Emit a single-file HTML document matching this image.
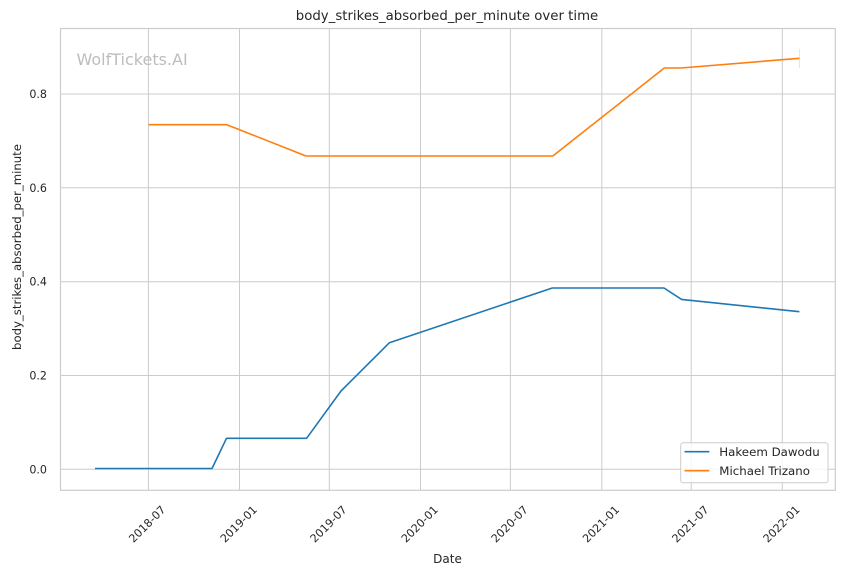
<!DOCTYPE html>
<html>
<head>
<meta charset="utf-8">
<style>
html,body{margin:0;padding:0;background:#fff;}
svg{display:block;}
text{font-family:"DejaVu Sans","Liberation Sans",sans-serif;fill:#262626;}
</style>
</head>
<body>
<svg width="844" height="575" viewBox="0 0 844 575" xmlns="http://www.w3.org/2000/svg">
<rect x="0" y="0" width="844" height="575" fill="#fff"/>
<!-- grid -->
<g stroke="#cccccc" stroke-width="1" fill="none">
<line x1="148.4" y1="28" x2="148.4" y2="490"/>
<line x1="239.5" y1="28" x2="239.5" y2="490"/>
<line x1="329.3" y1="28" x2="329.3" y2="490"/>
<line x1="420.5" y1="28" x2="420.5" y2="490"/>
<line x1="510.4" y1="28" x2="510.4" y2="490"/>
<line x1="601.8" y1="28" x2="601.8" y2="490"/>
<line x1="691.2" y1="28" x2="691.2" y2="490"/>
<line x1="782.3" y1="28" x2="782.3" y2="490"/>
<line x1="60" y1="469.3" x2="835" y2="469.3"/>
<line x1="60" y1="375.5" x2="835" y2="375.5"/>
<line x1="60" y1="281.7" x2="835" y2="281.7"/>
<line x1="60" y1="187.8" x2="835" y2="187.8"/>
<line x1="60" y1="94" x2="835" y2="94"/>
<rect x="60.5" y="28.5" width="774.8" height="461.8" stroke-width="1.2"/>
</g>
<!-- watermark -->
<text x="76.5" y="65" font-size="16" style="fill:#bdbdbd">WolfTickets.AI</text>
<!-- series -->
<line x1="799.5" y1="49" x2="799.5" y2="68" stroke="#ff7f0e" stroke-opacity="0.25" stroke-width="1"/>
<polyline fill="none" stroke="#1f77b4" stroke-width="1.6" stroke-linejoin="round" points="95,468.5 212,468.5 226.5,438.3 306.6,438.3 341,391 389.4,342.7 552.3,288 664,288 681.6,299.4 799.4,311.7"/>
<polyline fill="none" stroke="#ff7f0e" stroke-width="1.6" stroke-linejoin="round" points="148.5,124.7 226.8,124.7 306,156 552.8,156 664.3,68 681,68 799.4,58.3"/>
<!-- y tick labels -->
<g font-size="11.1" text-anchor="end">
<text x="47" y="473.3">0.0</text>
<text x="47" y="379.5">0.2</text>
<text x="47" y="285.7">0.4</text>
<text x="47" y="191.8">0.6</text>
<text x="47" y="98">0.8</text>
</g>
<!-- x tick labels -->
<g font-size="11.1" text-anchor="middle">
<text transform="translate(147,524) rotate(-45)" y="4">2018-07</text>
<text transform="translate(238.5,524) rotate(-45)" y="4">2019-01</text>
<text transform="translate(328.3,524) rotate(-45)" y="4">2019-07</text>
<text transform="translate(419.5,524) rotate(-45)" y="4">2020-01</text>
<text transform="translate(509.4,524) rotate(-45)" y="4">2020-07</text>
<text transform="translate(600.8,524) rotate(-45)" y="4">2021-01</text>
<text transform="translate(690.2,524) rotate(-45)" y="4">2021-07</text>
<text transform="translate(781.3,524) rotate(-45)" y="4">2022-01</text>
</g>
<!-- axis labels -->
<text x="447.5" y="563" font-size="12" text-anchor="middle">Date</text>
<text transform="translate(21,247) rotate(-90)" font-size="11.7" text-anchor="middle">body_strikes_absorbed_per_minute</text>
<!-- title -->
<text x="447" y="19.8" font-size="13.3" text-anchor="middle">body_strikes_absorbed_per_minute over time</text>
<!-- legend -->
<rect x="680.7" y="442.7" width="147.3" height="40" rx="2.5" ry="2.5" fill="#fff" fill-opacity="0.8" stroke="#cccccc" stroke-width="1"/>
<line x1="684.5" y1="451.7" x2="709.3" y2="451.7" stroke="#1f77b4" stroke-width="1.6"/>
<line x1="684.5" y1="470.7" x2="709.3" y2="470.7" stroke="#ff7f0e" stroke-width="1.6"/>
<text x="719.3" y="456" font-size="11.8">Hakeem Dawodu</text>
<text x="719.3" y="475" font-size="11.8">Michael Trizano</text>
</svg>
</body>
</html>
